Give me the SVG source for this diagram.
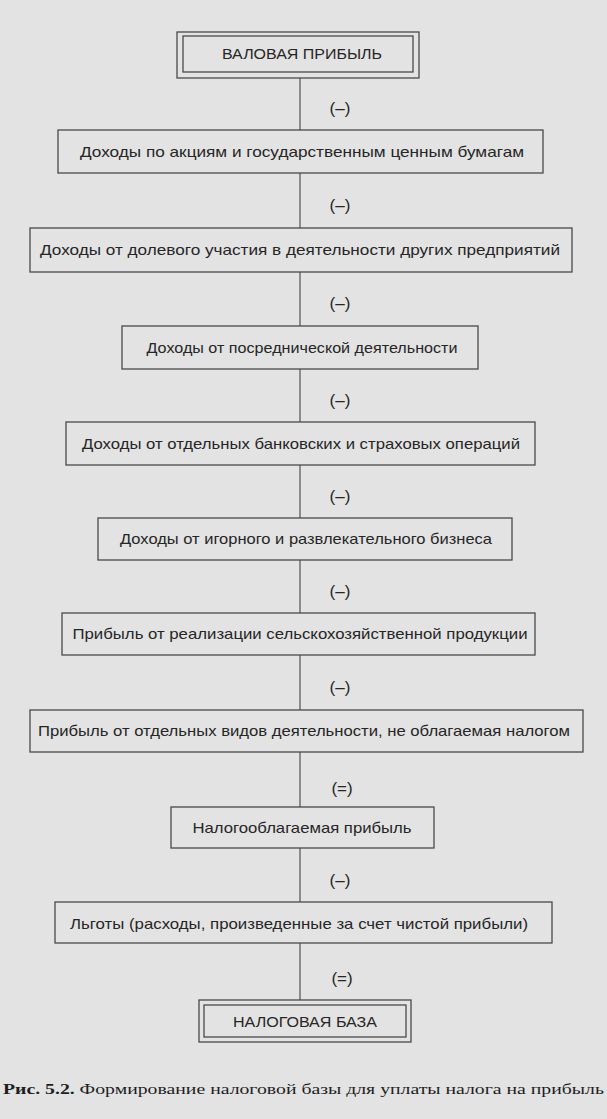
<svg xmlns="http://www.w3.org/2000/svg" width="607" height="1119" viewBox="0 0 607 1119">
<style>
.bg{fill:#e3e3e3}
.box{fill:none;stroke:#4a4a4a;stroke-width:1.3}
.t{font-family:"Liberation Sans",Arial,sans-serif;font-size:15px;fill:#262626;text-anchor:middle}
.op{font-family:"Liberation Sans",Arial,sans-serif;font-size:17px;fill:#262626;text-anchor:middle}
.con line{stroke:#444;stroke-width:1.1}
.cap{font-family:"Liberation Serif","Times New Roman",serif;font-size:15.5px;fill:#1e1e1e}
</style>
<rect class="bg" x="0" y="0" width="607" height="1119"/>
<g class="con">
<line x1="300" y1="78" x2="300" y2="130"/>
<line x1="300" y1="173" x2="300" y2="228"/>
<line x1="300" y1="272" x2="300" y2="326"/>
<line x1="300" y1="369" x2="300" y2="422"/>
<line x1="300" y1="465" x2="300" y2="518"/>
<line x1="300" y1="560" x2="300" y2="613"/>
<line x1="300" y1="655" x2="300" y2="710"/>
<line x1="300" y1="752" x2="300" y2="807"/>
<line x1="300" y1="848" x2="300" y2="902"/>
<line x1="300" y1="943" x2="300" y2="1000"/>
</g>
<g id="ops">
<text class="op" x="340" y="114">(–)</text>
<text class="op" x="340" y="211">(–)</text>
<text class="op" x="340" y="309">(–)</text>
<text class="op" x="340" y="406">(–)</text>
<text class="op" x="340" y="502">(–)</text>
<text class="op" x="340" y="597">(–)</text>
<text class="op" x="340" y="693">(–)</text>
<text class="op" x="342" y="794">(=)</text>
<text class="op" x="340" y="886">(–)</text>
<text class="op" x="342" y="984">(=)</text>
</g>
<g id="n0">
<rect class="box" x="177" y="32" width="242" height="46"/>
<rect class="box" x="183" y="36" width="230" height="36"/>
<text class="t" x="302" y="59" textLength="160" lengthAdjust="spacingAndGlyphs">ВАЛОВАЯ ПРИБЫЛЬ</text>
</g>
<g id="n1">
<rect class="box" x="58" y="130" width="485" height="43"/>
<text class="t" x="302" y="157" textLength="444" lengthAdjust="spacingAndGlyphs">Доходы по акциям и государственным ценным бумагам</text>
</g>
<g id="n2">
<rect class="box" x="30" y="228" width="542" height="44"/>
<text class="t" x="300" y="255" textLength="520" lengthAdjust="spacingAndGlyphs">Доходы от долевого участия в деятельности других предприятий</text>
</g>
<g id="n3">
<rect class="box" x="122" y="326" width="356" height="43"/>
<text class="t" x="302" y="353" textLength="311" lengthAdjust="spacingAndGlyphs">Доходы от посреднической деятельности</text>
</g>
<g id="n4">
<rect class="box" x="66" y="422" width="469" height="43"/>
<text class="t" x="301" y="449" textLength="438" lengthAdjust="spacingAndGlyphs">Доходы от отдельных банковских и страховых операций</text>
</g>
<g id="n5">
<rect class="box" x="98" y="518" width="414" height="42"/>
<text class="t" x="306" y="544" textLength="372" lengthAdjust="spacingAndGlyphs">Доходы от игорного и развлекательного бизнеса</text>
</g>
<g id="n6">
<rect class="box" x="62" y="613" width="473" height="42"/>
<text class="t" x="300" y="639" textLength="455" lengthAdjust="spacingAndGlyphs">Прибыль от реализации сельскохозяйственной продукции</text>
</g>
<g id="n7">
<rect class="box" x="30" y="710" width="553" height="42"/>
<text class="t" x="304" y="736" textLength="532" lengthAdjust="spacingAndGlyphs">Прибыль от отдельных видов деятельности, не облагаемая налогом</text>
</g>
<g id="n8">
<rect class="box" x="171" y="807" width="263" height="41"/>
<text class="t" x="302" y="833" textLength="219" lengthAdjust="spacingAndGlyphs">Налогооблагаемая прибыль</text>
</g>
<g id="n9">
<rect class="box" x="55" y="902" width="497" height="41"/>
<text class="t" x="299" y="929" textLength="458" lengthAdjust="spacingAndGlyphs">Льготы (расходы, произведенные за счет чистой прибыли)</text>
</g>
<g id="n10">
<rect class="box" x="199" y="1000" width="212" height="42"/>
<rect class="box" x="204" y="1005" width="202" height="32"/>
<text class="t" x="305" y="1027" textLength="144" lengthAdjust="spacingAndGlyphs">НАЛОГОВАЯ БАЗА</text>
</g>
<text class="cap" x="3" y="1094" textLength="601" lengthAdjust="spacingAndGlyphs"><tspan font-weight="bold">Рис. 5.2.</tspan> Формирование налоговой базы для уплаты налога на прибыль</text>
</svg>
